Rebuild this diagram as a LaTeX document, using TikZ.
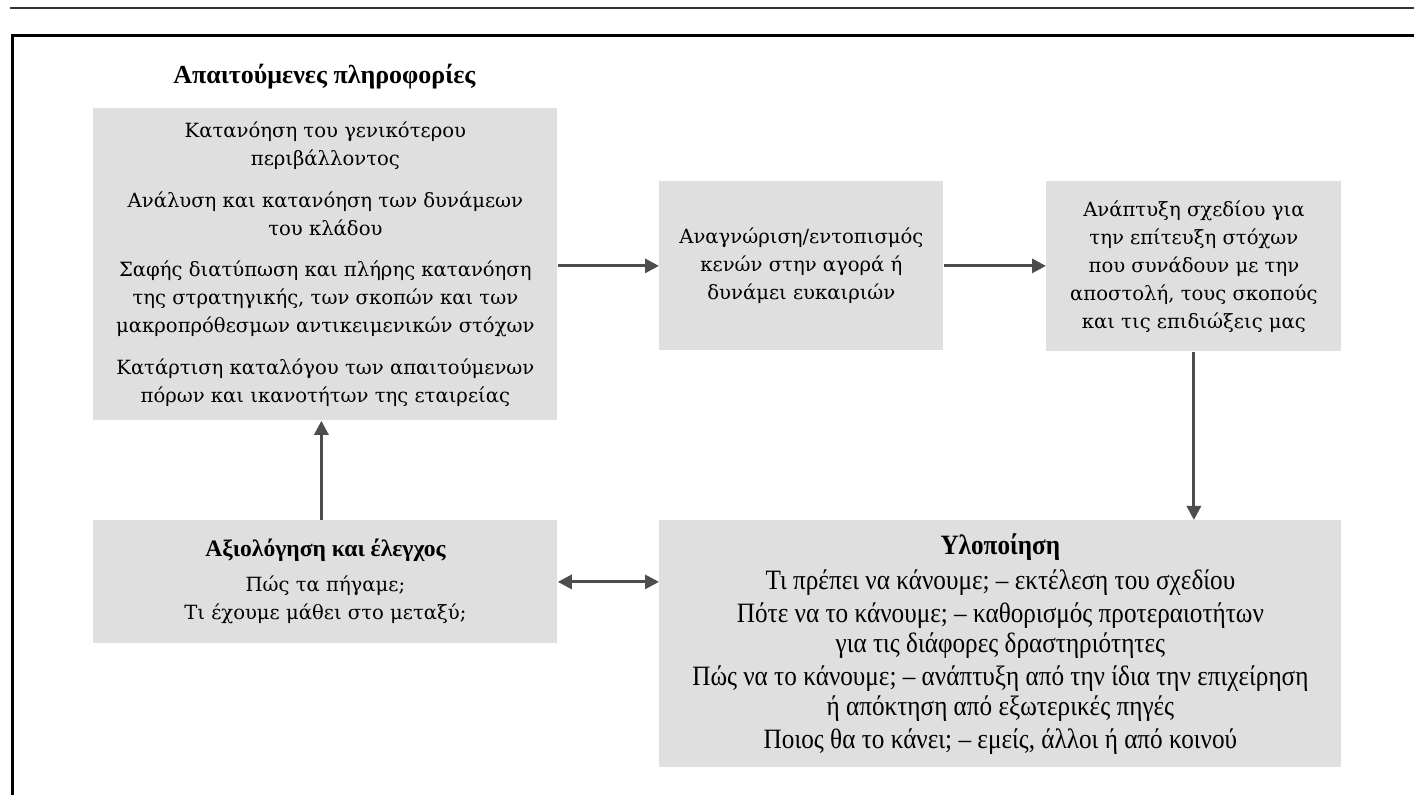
\documentclass[tikz,border=0pt]{standalone}
\usepackage{fontspec}
\setmainfont{DejaVu Serif}
\newfontfamily\tfont{Liberation Serif}
\newfontfamily\cfont[FakeStretch=0.9]{Liberation Serif}
\usetikzlibrary{arrows.meta}
\definecolor{boxgray}{HTML}{DFDFDF}
\definecolor{arrowgray}{HTML}{4D4D4D}
\begin{document}
\begin{tikzpicture}[x=0.5pt,y=-0.5pt,
  box/.style={fill=boxgray, inner sep=0pt, align=center, anchor=north west},
  txt/.style={font=\fontsize{9.8}{14}\selectfont},
  ctxt/.style={font=\cfont\fontsize{14}{15}\selectfont},
  conn/.style={draw=arrowgray, line width=1.5pt, -{Triangle[length=7pt,width=7pt]}},
  dconn/.style={draw=arrowgray, line width=1.5pt, {Triangle[length=7pt,width=7pt]}-{Triangle[length=7pt,width=7pt]}},
  rule/.style={line width=1.5pt, line cap=rect}
]
\useasboundingbox (0,0) rectangle (1414,795);
\draw[line width=1pt, black!80] (10,8) -- (1414,8);
\draw[rule] (1414,36) -- (12,36) -- (12,795);

\node[font=\tfont\bfseries\fontsize{13}{15}\selectfont, anchor=west, inner sep=0pt] (title) at (173,77) {Απαιτούμενες πληροφορίες};

\node[box, txt, minimum width=232pt, minimum height=156pt] (info) at (93,108)
{Κατανόηση του γενικότερου\\ περιβάλλοντος\\[6.8pt]
Ανάλυση και κατανόηση των δυνάμεων\\ του κλάδου\\[6.8pt]
Σαφής διατύπωση και πλήρης κατανόηση\\ της στρατηγικής, των σκοπών και των\\ μακροπρόθεσμων αντικειμενικών στόχων\\[6.8pt]
Κατάρτιση καταλόγου των απαιτούμενων\\ πόρων και ικανοτήτων της εταιρείας};

\node[box, txt, minimum width=142pt, minimum height=84.5pt] (gap) at (659,181)
{Αναγνώριση/εντοπισμός\\ κενών στην αγορά ή\\ δυνάμει ευκαιριών};

\node[box, txt, minimum width=147.5pt, minimum height=85pt] (plan) at (1046,181)
{Ανάπτυξη σχεδίου για\\ την επίτευξη στόχων\\ που συνάδουν με την\\ αποστολή, τους σκοπούς\\ και τις επιδιώξεις μας};

\node[box, txt, minimum width=232pt, minimum height=61.5pt] (eval) at (93,520)
{{\tfont\bfseries\fontsize{11.8}{14}\selectfont Αξιολόγηση και έλεγχος}\\[3.5pt]
Πώς τα πήγαμε;\\ Τι έχουμε μάθει στο μεταξύ;};

\node[box, ctxt, minimum width=341pt, minimum height=123.5pt] (impl) at (659,520)
{{\bfseries Υλοποίηση}\\[2.5pt]
Τι πρέπει να κάνουμε; – εκτέλεση του σχεδίου\\[1.5pt]
Πότε να το κάνουμε; – καθορισμός προτεραιοτήτων\\ για τις διάφορες δραστηριότητες\\[1.5pt]
Πώς να το κάνουμε; – ανάπτυξη από την ίδια την επιχείρηση\\ ή απόκτηση από εξωτερικές πηγές\\[1.5pt]
Ποιος θα το κάνει; – εμείς, άλλοι ή από κοινού};

\draw[conn] (info.east |- gap.west) -- (gap.west);
\draw[conn] (gap.east) -- (plan.west |- gap.east);
\draw[conn] (plan.south) -- (plan.south |- impl.north);
\draw[conn] ([xshift=-2pt]eval.north) -- ([xshift=-2pt]info.south);
\draw[dconn] (eval.east) -- (impl.west |- eval.east);
\end{tikzpicture}
\end{document}
